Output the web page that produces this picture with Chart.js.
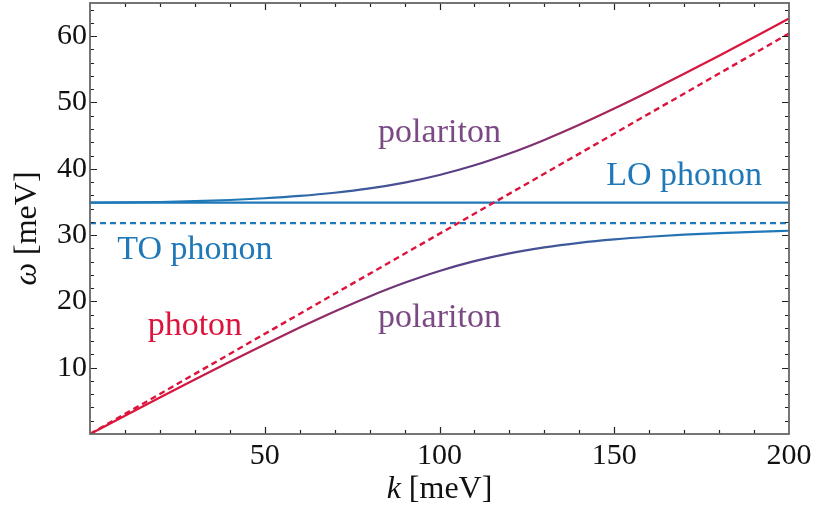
<!DOCTYPE html>
<html>
<head>
<meta charset="utf-8">
<script src="https://cdn.jsdelivr.net/npm/chart.js@4.4.1/dist/chart.umd.min.js"></script>
<style>
  html, body { margin: 0; padding: 0; background: #ffffff; }
  #wrap { width: 813px; height: 512px; position: relative; }
</style>
</head>
<body>
<div id="wrap"><canvas id="c" width="813" height="512"></canvas></div>
<script>
// ---- data ----
const kValues = [0, 10, 20, 30, 40, 50, 60, 70, 80, 90, 100, 110, 120, 130, 140, 150, 160, 170, 180, 190, 200];
const upperPolariton = [34.90, 34.92, 34.99, 35.11, 35.29, 35.55, 35.90, 36.38, 37.03, 37.91, 39.06, 40.52, 42.30, 44.35, 46.63, 49.08, 51.65, 54.32, 57.05, 59.84, 62.66];
const lowerPolariton = [0, 2.75, 5.49, 8.21, 10.89, 13.51, 16.05, 18.48, 20.75, 22.80, 24.59, 26.07, 27.25, 28.15, 28.83, 29.35, 29.75, 30.06, 30.30, 30.49, 30.65];
const photonK = [0, 200];
const photonOmega = [0, 60.4];
const phononK = [0, 200];
const loPhonon = [34.9, 34.9];
const toPhonon = [31.8, 31.8];
const xTickLabels = [50, 100, 150, 200];
const yTickLabels = [10, 20, 30, 40, 50, 60];

// ---- styles ----
const BLUE = '#1f78b8';
const RED = '#dc143c';
const PURPLE = '#7b4a85';
const SERIF = '"Liberation Serif", "DejaVu Serif", serif';

const annotations = [
  { text: 'polariton', k: 100, w: 44.1, color: PURPLE },
  { text: 'LO phonon', k: 170, w: 37.6, color: BLUE },
  { text: 'TO phonon', k: 30, w: 26.4, color: BLUE },
  { text: 'photon', k: 30, w: 14.9, color: RED },
  { text: 'polariton', k: 100, w: 16.1, color: PURPLE }
];

const pts = (xs, ys) => xs.map((x, i) => ({ x: x, y: ys[i] }));

function gradientFor(chart, kStart, kEnd, cStart, cEnd) {
  const area = chart.chartArea;
  if (!area) return cStart;
  const xs = chart.scales.x;
  const g = chart.ctx.createLinearGradient(xs.getPixelForValue(kStart), 0, xs.getPixelForValue(kEnd), 0);
  g.addColorStop(0, cStart);
  g.addColorStop(0.5, '#5f3a80');
  g.addColorStop(1, cEnd);
  return g;
}

const framePlugin = {
  id: 'frame',
  afterDraw(chart) {
    const { ctx, chartArea: a, scales } = chart;
    const xs = scales.x, ys = scales.y;
    ctx.save();
    // ticks
    ctx.strokeStyle = '#222';
    ctx.lineWidth = 1.2;
    ctx.beginPath();
    for (let v = 10; v < 200; v += 10) {
      const px = Math.round(xs.getPixelForValue(v)) + 0.5;
      const len = (v % 50 === 0) ? 7 : 4;
      ctx.moveTo(px, a.bottom); ctx.lineTo(px, a.bottom - len);
      ctx.moveTo(px, a.top); ctx.lineTo(px, a.top + len);
    }
    for (let v = 2; v < 65; v += 2) {
      const py = Math.round(ys.getPixelForValue(v)) + 0.5;
      const len = (v % 10 === 0) ? 7 : 4;
      ctx.moveTo(a.left, py); ctx.lineTo(a.left + len, py);
      ctx.moveTo(a.right, py); ctx.lineTo(a.right - len, py);
    }
    ctx.stroke();
    // frame
    ctx.strokeStyle = '#666666';
    ctx.lineWidth = 1.8;
    ctx.strokeRect(a.left, a.top, a.right - a.left, a.bottom - a.top);
    // annotations
    ctx.textAlign = 'center';
    ctx.textBaseline = 'alphabetic';
    ctx.font = '34px ' + SERIF;
    annotations.forEach(an => {
      ctx.fillStyle = an.color;
      ctx.fillText(an.text, xs.getPixelForValue(an.k), ys.getPixelForValue(an.w));
    });
    // axis titles
    ctx.fillStyle = '#111';
    const drawMixed = (parts, cx, cy) => {
      let total = 0;
      parts.forEach(p => { ctx.font = p.f; p.w = ctx.measureText(p.t).width; total += p.w; });
      let x = cx - total / 2;
      ctx.textAlign = 'left';
      parts.forEach(p => { ctx.font = p.f; ctx.fillText(p.t, x, cy); x += p.w; });
    };
    drawMixed([{ t: 'k', f: 'italic 32px ' + SERIF }, { t: ' [meV]', f: '32px ' + SERIF }],
      (a.left + a.right) / 2, a.bottom + 64);
    ctx.save();
    ctx.translate(a.left - 54, (a.top + a.bottom) / 2 + 10);
    ctx.rotate(-Math.PI / 2);
    drawMixed([{ t: 'ω', f: 'italic 32px ' + SERIF }, { t: ' [meV]', f: '32px ' + SERIF }], 0, 0);
    ctx.restore();
    ctx.restore();
  }
};

new Chart(document.getElementById('c'), {
  type: 'line',
  data: {
    datasets: [
      {
        label: 'upper polariton',
        data: pts(kValues, upperPolariton),
        borderColor: (c) => gradientFor(c.chart, 45, 175, BLUE, RED),
        borderWidth: 2.2,
        cubicInterpolationMode: 'monotone'
      },
      {
        label: 'lower polariton',
        data: pts(kValues, lowerPolariton),
        borderColor: (c) => gradientFor(c.chart, 20, 175, RED, BLUE),
        borderWidth: 2.2,
        cubicInterpolationMode: 'monotone'
      },
      {
        label: 'photon',
        data: pts(photonK, photonOmega),
        borderColor: RED,
        borderWidth: 2.4,
        borderDash: [6, 4]
      },
      {
        label: 'TO phonon',
        data: pts(phononK, toPhonon),
        borderColor: BLUE,
        borderWidth: 2.2,
        borderDash: [6, 4]
      },
      {
        label: 'LO phonon',
        data: pts(phononK, loPhonon),
        borderColor: BLUE,
        borderWidth: 2.2
      }
    ]
  },
  options: {
    responsive: false,
    animation: false,
    events: [],
    layout: { padding: { left: 0, right: 24, top: 3, bottom: 0 } },
    elements: { point: { radius: 0 } },
    plugins: { legend: { display: false }, tooltip: { enabled: false } },
    scales: {
      x: {
        type: 'linear',
        min: 0, max: 200,
        grid: { display: false, drawTicks: false },
        border: { display: false },
        afterFit(s) { s.height = 78; s.paddingLeft = 0; s.paddingRight = 0; },
        ticks: {
          stepSize: 50,
          padding: 4,
          color: '#111',
          font: { family: SERIF, size: 30 },
          callback: (v) => xTickLabels.includes(v) ? String(v) : ''
        }
      },
      y: {
        type: 'linear',
        min: 0, max: 65,
        grid: { display: false, drawTicks: false },
        border: { display: false },
        afterFit(s) { s.width = 90; s.paddingTop = 0; s.paddingBottom = 0; },
        ticks: {
          stepSize: 10,
          includeBounds: false,
          padding: 3,
          color: '#111',
          font: { family: SERIF, size: 30 },
          callback: (v) => yTickLabels.includes(v) ? String(v) : ''
        }
      }
    }
  },
  plugins: [framePlugin]
});
</script>
</body>
</html>
